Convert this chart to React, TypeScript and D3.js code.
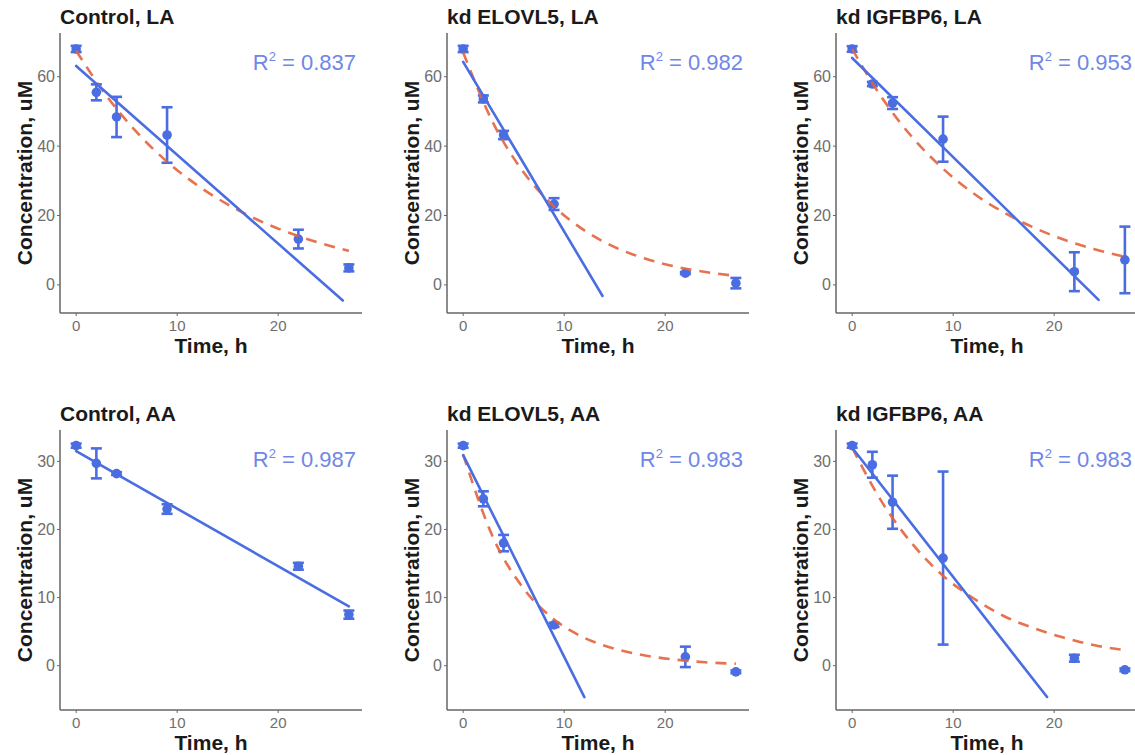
import React from "react";
import * as d3 from "d3";

// ---- data ----
const times = [0, 2, 4, 9, 22, 27];
const fitTimes = [0, 3, 6, 9, 12, 15, 18, 21, 24, 27];

const panelTitles = [
  "Control, LA",
  "kd ELOVL5, LA",
  "kd IGFBP6, LA",
  "Control, AA",
  "kd ELOVL5, AA",
  "kd IGFBP6, AA",
];
const rSquared = ["0.837", "0.982", "0.953", "0.987", "0.983", "0.983"];

const controlLaMean = [68, 55.5, 48.4, 43.2, 13.2, 4.9];
const controlLaSd = [0.9, 2.3, 5.8, 8.0, 2.7, 1.0];
const elovlLaMean = [68, 53.6, 43.2, 23.3, 3.4, 0.5];
const elovlLaSd = [0.9, 1.0, 1.2, 1.7, 0.3, 1.5];
const igfbpLaMean = [68, 57.9, 52.4, 42, 3.8, 7.2];
const igfbpLaSd = [0.8, 0.6, 1.7, 6.5, 5.6, 9.6];
const controlAaMean = [32.3, 29.7, 28.2, 23.0, 14.6, 7.5];
const controlAaSd = [0.3, 2.2, 0.2, 0.7, 0.5, 0.6];
const elovlAaMean = [32.3, 24.5, 18.0, 6.0, 1.3, -0.9];
const elovlAaSd = [0.3, 1.1, 1.2, 0.3, 1.5, 0.2];
const igfbpAaMean = [32.3, 29.5, 24.0, 15.8, 1.1, -0.6];
const igfbpAaSd = [0.3, 1.9, 3.9, 12.7, 0.5, 0.2];

// linear fit: value at t=0, and where the drawn line stops
const linStartValue = [63.1, 64.3, 65.4, 31.5, 30.9, 32.0];
const linEndTime = [26.4, 13.8, 24.4, 27, 12.0, 19.3];
const linEndValue = [-4.5, -3.2, -4.3, 8.7, -4.6, -4.6];

// exponential fit (dashed), sampled at fitTimes
const expControlLa = [67.5, 54.5, 44.0, 35.5, 28.7, 23.2, 18.7, 15.1, 12.2, 9.8];
const expElovlLa = [67.0, 46.5, 32.4, 22.6, 15.7, 10.9, 7.6, 5.3, 3.7, 2.6];
const expIgfbpLa = [68.0, 53.7, 42.4, 33.5, 26.4, 20.9, 16.5, 13.0, 10.3, 8.1];
const expElovlAa = [31.0, 18.7, 11.3, 6.8, 4.1, 2.5, 1.5, 0.9, 0.5, 0.3];
const expIgfbpAa = [32.0, 23.9, 17.8, 13.2, 9.9, 7.3, 5.5, 4.1, 3.0, 2.3];

const laTicks = [0, 20, 40, 60];
const aaTicks = [0, 10, 20, 30];
const timeTicks = [0, 10, 20];

const means = [controlLaMean, elovlLaMean, igfbpLaMean, controlAaMean, elovlAaMean, igfbpAaMean];
const sds = [controlLaSd, elovlLaSd, igfbpLaSd, controlAaSd, elovlAaSd, igfbpAaSd];
const expFits = [expControlLa, expElovlLa, expIgfbpLa, null, expElovlAa, expIgfbpAa];

// ---- layout ----
const W = 1135;
const H = 755;
const colLeft = [60, 447, 836];
const rowTop = [33, 430];
const plotW = 302;
const plotH = 280;

const FONT = "'Liberation Sans', Arial, Helvetica, sans-serif";
const BLUE = "#4a6ee2";
const R2_BLUE = "#6f87e6";
const ORANGE = "#e4633c";
const AXIS = "#666";
const TICK_TEXT = "#6e6e6e";

function Panel({ i }: { i: number }) {
  const row = i < 3 ? 0 : 1;
  const left = colLeft[i % 3];
  const top = rowTop[row];
  const x = d3.scaleLinear().domain([-1.6, 28.3]).range([left, left + plotW]);
  const y = d3
    .scaleLinear()
    .domain(row === 0 ? [-8.1, 72.6] : [-6.5, 34.6])
    .range([top + plotH, top]);
  const yTicks = row === 0 ? laTicks : aaTicks;

  const pts = times.map((t, k) => ({ t, m: means[i][k], s: sds[i][k] }));
  const fit = expFits[i];
  const dashed = fit
    ? d3
        .line<number>()
        .x((_, k) => x(fitTimes[k]))
        .y((v) => y(v))
        .curve(d3.curveMonotoneX)(fit)
    : null;
  const clipId = `clip${i}`;
  const cap = 5.5;

  return (
    <g>
      <defs>
        <clipPath id={clipId}>
          <rect x={left} y={top} width={plotW} height={plotH} />
        </clipPath>
      </defs>
      <text x={left} y={top - 9} fontFamily={FONT} fontWeight="bold" fontSize={21} fill="#1a1a1a">
        {panelTitles[i]}
      </text>
      {/* axes */}
      <line x1={left} x2={left} y1={top} y2={top + plotH} stroke={AXIS} strokeWidth={1.5} />
      <line x1={left} x2={left + plotW} y1={top + plotH} y2={top + plotH} stroke={AXIS} strokeWidth={1.5} />
      {yTicks.map((v) => (
        <g key={"y" + v}>
          <line x1={left - 3} x2={left} y1={y(v)} y2={y(v)} stroke={AXIS} strokeWidth={1} />
          <text x={left - 5} y={y(v) + 5.5} textAnchor="end" fontFamily={FONT} fontSize={16} fill={TICK_TEXT}>
            {v}
          </text>
        </g>
      ))}
      {timeTicks.map((v) => (
        <g key={"x" + v}>
          <line x1={x(v)} x2={x(v)} y1={top + plotH} y2={top + plotH + 3} stroke={AXIS} strokeWidth={1} />
          <text x={x(v)} y={top + plotH + 18} textAnchor="middle" fontFamily={FONT} fontSize={15} fill={TICK_TEXT}>
            {v}
          </text>
        </g>
      ))}
      <text
        x={left + plotW / 2}
        y={top + plotH + 40}
        textAnchor="middle"
        fontFamily={FONT}
        fontWeight="bold"
        fontSize={21}
        fill="#1a1a1a"
      >
        Time, h
      </text>
      <text
        transform={`translate(${left - 28},${top + plotH / 2}) rotate(-90)`}
        textAnchor="middle"
        fontFamily={FONT}
        fontWeight="bold"
        fontSize={21}
        fill="#1a1a1a"
      >
        Concentration, uM
      </text>

      <g clipPath={`url(#${clipId})`}>
        {pts.map((p) => (
          <g key={p.t} stroke={BLUE} strokeWidth={2.6}>
            <line x1={x(p.t)} x2={x(p.t)} y1={y(p.m - p.s)} y2={y(p.m + p.s)} />
            <line x1={x(p.t) - cap} x2={x(p.t) + cap} y1={y(p.m - p.s)} y2={y(p.m - p.s)} />
            <line x1={x(p.t) - cap} x2={x(p.t) + cap} y1={y(p.m + p.s)} y2={y(p.m + p.s)} />
          </g>
        ))}
        {pts.map((p) => (
          <circle key={"c" + p.t} cx={x(p.t)} cy={y(p.m)} r={4.8} fill={BLUE} />
        ))}
        {dashed && (
          <path d={dashed} fill="none" stroke={ORANGE} strokeWidth={2.6} strokeDasharray="11 8" opacity={0.9} />
        )}
        <line
          x1={x(0)}
          y1={y(linStartValue[i])}
          x2={x(linEndTime[i])}
          y2={y(linEndValue[i])}
          stroke={BLUE}
          strokeWidth={2.6}
          strokeLinecap="round"
        />
      </g>

      <text
        x={left + plotW - 6}
        y={top + 37}
        textAnchor="end"
        fontFamily={FONT}
        fontSize={22}
        fill={R2_BLUE}
      >
        R<tspan dy={-9} fontSize={13}>2</tspan>
        <tspan dy={9}>{" = " + rSquared[i]}</tspan>
      </text>
    </g>
  );
}

export default function App() {
  return (
    <div style={{ position: "absolute", left: 0, top: 0 }}>
      <svg width={W} height={H} style={{ display: "block", background: "#fff" }}>
        {panelTitles.map((_, i) => (
          <Panel key={i} i={i} />
        ))}
      </svg>
    </div>
  );
}
